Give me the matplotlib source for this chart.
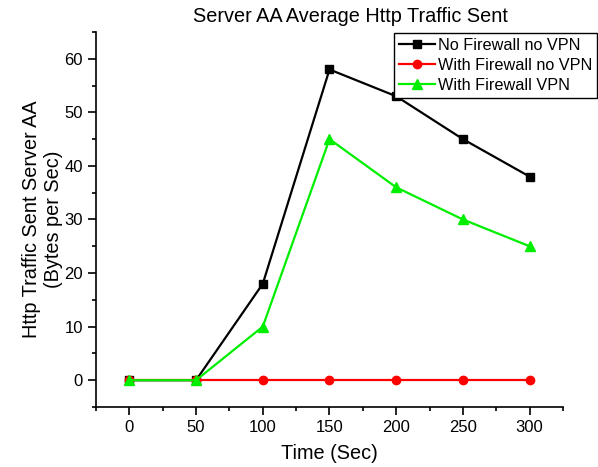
import matplotlib
matplotlib.use('Agg')
import matplotlib.pyplot as plt
from matplotlib.ticker import MultipleLocator

plt.rcParams['font.family'] = ['Liberation Sans', 'DejaVu Sans']

# data
time_sec = [0, 50, 100, 150, 200, 250, 300]
no_fw_no_vpn = [0, 0, 18, 58, 53, 45, 38]
fw_no_vpn = [0, 0, 0, 0, 0, 0, 0]
fw_vpn = [0, 0, 10, 45, 36, 30, 25]

fig = plt.figure(figsize=(5.98, 4.67), dpi=100)
ax = fig.add_axes([0.1605, 0.1285, 0.781, 0.803])

ax.plot(time_sec, no_fw_no_vpn, color='black', marker='s', markersize=6, lw=1.6,
        label='No Firewall no VPN')
ax.plot(time_sec, fw_no_vpn, color='#ff0000', marker='o', markersize=6, lw=1.6,
        label='With Firewall no VPN')
ax.plot(time_sec, fw_vpn, color='#00ee00', marker='^', markersize=7, lw=1.6,
        label='With Firewall VPN')

ax.set_xlim(-25, 325)
ax.set_ylim(-5, 65)
ax.xaxis.set_major_locator(MultipleLocator(50))
ax.xaxis.set_minor_locator(MultipleLocator(25))
ax.yaxis.set_major_locator(MultipleLocator(10))
ax.yaxis.set_minor_locator(MultipleLocator(5))
ax.tick_params(which='both', direction='out', labelsize=12, width=1.2)
ax.tick_params(which='major', length=6)
ax.tick_params(which='minor', length=3)

for s in ['top', 'right']:
    ax.spines[s].set_visible(False)
for s in ['left', 'bottom']:
    ax.spines[s].set_linewidth(1.2)

fig.text(350 / 598, 1 - 17 / 467, 'Server AA Average Http Traffic Sent',
         fontsize=14.3, ha='center', va='center')
ax.set_xlabel('Time (Sec)', fontsize=14.3, labelpad=6)
ax.set_ylabel('Http Traffic Sent Server AA\n(Bytes per Sec)', fontsize=14.3,
              labelpad=1)

leg = ax.legend(loc='upper right', bbox_to_anchor=(597 / 598, 1 - 33 / 467),
                bbox_transform=fig.transFigure, fontsize=11.7,
                fancybox=False, edgecolor='black', framealpha=1,
                handlelength=2.2, handletextpad=0.2, borderpad=0.3,
                labelspacing=0.3, borderaxespad=0)
leg.get_frame().set_linewidth(1.0)

fig.savefig('out.png', dpi=100)
